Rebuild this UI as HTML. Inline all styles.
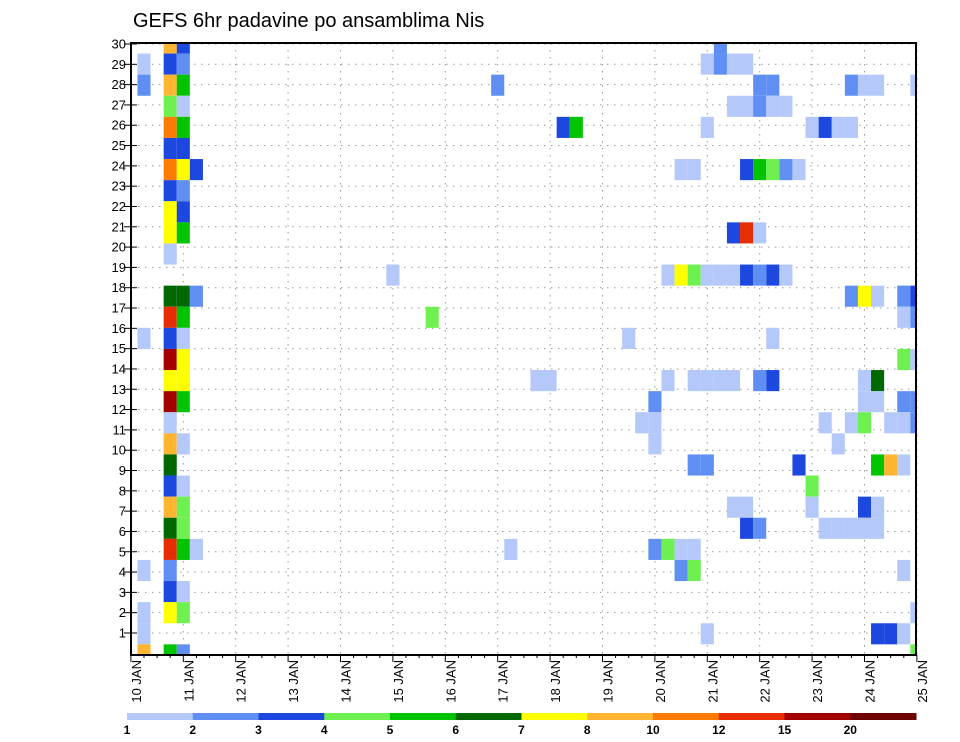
<!DOCTYPE html>
<html><head><meta charset="utf-8"><style>
html,body{margin:0;padding:0;background:#fff;}
svg{display:block;font-family:"Liberation Sans",sans-serif;}
</style></head><body>
<svg id="chart" width="960" height="742" viewBox="0 0 960 742">
<defs><clipPath id="plotclip"><rect x="131" y="43" width="785" height="612"/></clipPath></defs>
<rect x="0" y="0" width="960" height="742" fill="#fff"/>
<text x="133" y="27" font-size="20" fill="#000">GEFS 6hr padavine po ansamblima Nis</text>
<g id="grid"></g>
<g id="cells" clip-path="url(#plotclip)"></g>
<rect x="131" y="43" width="785" height="612" fill="none" stroke="#000" stroke-width="2"/>
<g id="axes"></g>
<g id="legend"></g>
</svg>
<script>
const dayLabels = ["10 JAN","11 JAN","12 JAN","13 JAN","14 JAN","15 JAN","16 JAN","17 JAN","18 JAN","19 JAN","20 JAN","21 JAN","22 JAN","23 JAN","24 JAN","25 JAN"];
const memberLabels = [1,2,3,4,5,6,7,8,9,10,11,12,13,14,15,16,17,18,19,20,21,22,23,24,25,26,27,28,29,30];
const levels = [1,2,3,4,5,6,7,8,10,12,15,20];
const levelColors = ["#b4c8fa","#5f8ff2","#1c48e0","#6ef050","#00c400","#006800","#ffff00","#ffb432","#ff7a00","#e62c00","#a50000","#6e0000"];
// [member, 6h-step, mm]
const cells = [
[30,3,9],[30,4,3.5],[30,45,2.5],
[29,1,1.5],[29,3,3.5],[29,4,2.5],[29,44,1.5],[29,45,2.5],[29,46,1.5],[29,47,1.5],
[28,1,2.5],[28,3,9],[28,4,5.5],[28,28,2.5],[28,48,2.5],[28,49,2.5],[28,55,2.5],[28,56,1.5],[28,57,1.5],[28,60,1.5],
[27,3,4.5],[27,4,1.5],[27,46,1.5],[27,47,1.5],[27,48,2.5],[27,49,1.5],[27,50,1.5],
[26,3,11],[26,4,5.5],[26,33,3.5],[26,34,5.5],[26,44,1.5],[26,52,1.5],[26,53,3.5],[26,54,1.5],[26,55,1.5],
[25,3,3.5],[25,4,3.5],
[24,3,11],[24,4,7.5],[24,5,3.5],[24,42,1.5],[24,43,1.5],[24,47,3.5],[24,48,5.5],[24,49,4.5],[24,50,2.5],[24,51,1.5],
[23,3,3.5],[23,4,2.5],
[22,3,7.5],[22,4,3.5],
[21,3,7.5],[21,4,5.5],[21,46,3.5],[21,47,13.5],[21,48,1.5],
[20,3,1.5],
[19,20,1.5],[19,41,1.5],[19,42,7.5],[19,43,4.5],[19,44,1.5],[19,45,1.5],[19,46,1.5],[19,47,3.5],[19,48,2.5],[19,49,3.5],[19,50,1.5],
[18,3,6.5],[18,4,6.5],[18,5,2.5],[18,55,2.5],[18,56,7.5],[18,57,1.5],[18,59,2.5],[18,60,3.5],
[17,3,13.5],[17,4,5.5],[17,23,4.5],[17,59,1.5],[17,60,2.5],
[16,1,1.5],[16,3,3.5],[16,4,1.5],[16,38,1.5],[16,49,1.5],
[15,3,17.5],[15,4,7.5],[15,59,4.5],[15,60,1.5],
[14,3,7.5],[14,4,7.5],[14,31,1.5],[14,32,1.5],[14,41,1.5],[14,43,1.5],[14,44,1.5],[14,45,1.5],[14,46,1.5],[14,48,2.5],[14,49,3.5],[14,56,1.5],[14,57,6.5],
[13,3,17.5],[13,4,5.5],[13,40,2.5],[13,56,1.5],[13,57,1.5],[13,59,2.5],[13,60,2.5],
[12,3,1.5],[12,39,1.5],[12,40,1.5],[12,53,1.5],[12,55,1.5],[12,56,4.5],[12,58,1.5],[12,59,1.5],[12,60,2.5],
[11,3,9],[11,4,1.5],[11,40,1.5],[11,54,1.5],
[10,3,6.5],[10,43,2.5],[10,44,2.5],[10,51,3.5],[10,57,5.5],[10,58,9],[10,59,1.5],
[9,3,3.5],[9,4,1.5],[9,52,4.5],
[8,3,9],[8,4,4.5],[8,46,1.5],[8,47,1.5],[8,52,1.5],[8,56,3.5],[8,57,1.5],
[7,3,6.5],[7,4,4.5],[7,47,3.5],[7,48,2.5],[7,53,1.5],[7,54,1.5],[7,55,1.5],[7,56,1.5],[7,57,1.5],
[6,3,13.5],[6,4,5.5],[6,5,1.5],[6,29,1.5],[6,40,2.5],[6,41,4.5],[6,42,1.5],[6,43,1.5],
[5,1,1.5],[5,3,2.5],[5,42,2.5],[5,43,4.5],[5,59,1.5],
[4,3,3.5],[4,4,1.5],
[3,1,1.5],[3,3,7.5],[3,4,4.5],[3,60,1.5],
[2,1,1.5],[2,44,1.5],[2,57,3.5],[2,58,3.5],[2,59,1.5],
[1,1,9],[1,3,5.5],[1,4,2.5],[1,60,4.5]
];

const NS = "http://www.w3.org/2000/svg";
const X0 = 130.9, STEP = 13.1, CELLW = 13.1;
const CELLH = 21.1;
function xStep(s){ return X0 + STEP*s; }
function xDay(d){ return X0 + STEP*4*d; }
function yCell(m){ return 43 + (30-m)*CELLH; }
function yTick(m){ return 44 + (30-m)*20.31; }
function colorFor(v){ let i=0; for(let j=0;j<levels.length;j++){ if(v>=levels[j]) i=j; } return levelColors[i]; }
function mk(tag, attrs, parent){ const e=document.createElementNS(NS,tag); for(const k in attrs) e.setAttribute(k, attrs[k]); parent.appendChild(e); return e; }

const grid = document.getElementById('grid');
const cg = document.getElementById('cells');
const axes = document.getElementById('axes');
const legend = document.getElementById('legend');

memberLabels.forEach(m=>{
  const l = mk('line',{x1:131,x2:916,y1:yTick(m),y2:yTick(m),stroke:'#999','stroke-width':1,'stroke-dasharray':'1.5,5.5'},grid);
  
  
});
dayLabels.forEach((d,i)=>{
  const l = mk('line',{x1:xDay(i),x2:xDay(i),y1:43,y2:655,stroke:'#999','stroke-width':1,'stroke-dasharray':'1.5,5.5'},grid);
  
  
});

cells.forEach(c=>{
  const [m,s,v] = c;
  const r = mk('rect',{x:xStep(s)-CELLW/2,y:yCell(m)-CELLH/2,width:CELLW,height:CELLH,fill:colorFor(v)},cg);
  
  
});

memberLabels.forEach(m=>{
  const y = yTick(m);
  const t = mk('line',{x1:124,x2:137,y1:y,y2:y,stroke:'#000','stroke-width':1},axes);
  
  
  const tx = mk('text',{x:126,y:y+4.5,'text-anchor':'end','font-size':13,fill:'#000'},axes);
  tx.textContent = m;
  
  
});
for(let s=0;s<=60;s++){
  const major = s%4===0;
  const t = mk('line',{x1:xStep(s),x2:xStep(s),y1:655,y2:major?662:658,stroke:'#000','stroke-width':1},axes);
  
  
}
dayLabels.forEach((d,i)=>{
  const x = xDay(i)+10;
  const tx = mk('text',{x:x,y:660,'text-anchor':'end','font-size':13,fill:'#000',transform:'rotate(-90 '+x+' 660)'},axes);
  tx.textContent = d;
  
  
});

const LX0 = 127, LX1 = 916, LW = (LX1-LX0)/levels.length;
levelColors.forEach((c,i)=>{
  const r = mk('rect',{x:LX0+i*LW,y:713,width:LW+0.5,height:7,fill:c},legend);
  
  
});
levels.forEach((v,i)=>{
  const tx = mk('text',{x:LX0+i*LW,y:734,'text-anchor':'middle','font-size':12,'font-weight':'bold',fill:'#000'},legend);
  tx.textContent = v;
  
  
});
</script>
</body></html>
